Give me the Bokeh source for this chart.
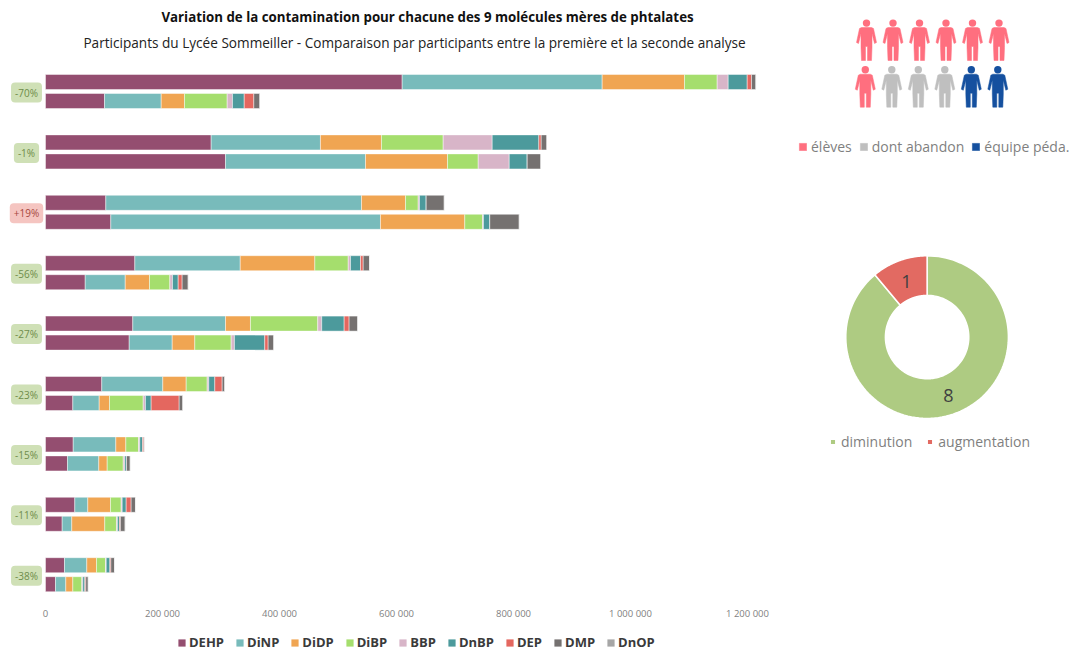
from math import pi
import numpy as np
from bokeh.embed import file_html
from bokeh.resources import INLINE
from bokeh.plotting import figure
from bokeh.layouts import row, column
from bokeh.models import Range1d, Label, Legend, LegendItem, FixedTicker, LinearAxis

FONT = "Open Sans"
series = ["DEHP", "DiNP", "DiDP", "DiBP", "BBP", "DnBP", "DEP", "DMP", "DnOP"]
colors = ["#944E70", "#78BBBB", "#F0A552", "#A5DE6D", "#D8B5C8", "#4C9A9C", "#E4675F", "#757170", "#A6A6A6"]
changes = ["-70%", "-1%", "+19%", "-56%", "-27%", "-23%", "-15%", "-11%", "-38%"]

first = {
    "DEHP": [609700, 283200, 103100, 152700, 149200, 96200, 47400, 50100, 32500],
    "DiNP": [341900, 186800, 437100, 180200, 158500, 104300, 72800, 22200, 38100],
    "DiDP": [140700, 104300, 75200, 127500, 42700, 40000, 17100, 38800, 16600],
    "DiBP": [55900, 105500, 21700, 57100, 115000, 35900, 21700, 18300, 15400],
    "BBP": [18800, 83800, 2200, 3900, 6800, 2700, 2200, 1700, 1200],
    "DnBP": [32500, 79700, 11500, 17100, 38300, 10300, 4600, 6800, 6200],
    "DEP": [7400, 4100, 0, 4600, 8500, 12600, 2200, 8500, 1700],
    "DMP": [7400, 9600, 30800, 10800, 14700, 4400, 1200, 7400, 6300],
    "DnOP": [300, 200, 200, 200, 200, 200, 300, 200, 200],
}
second = {
    "DEHP": [100900, 307700, 111600, 67900, 143100, 46700, 37600, 28500, 17100],
    "DiNP": [96900, 239300, 461000, 68400, 73500, 45100, 53500, 16400, 17600],
    "DiDP": [39800, 140200, 144100, 41500, 38600, 17600, 14400, 56400, 12000],
    "DiBP": [73000, 52500, 30300, 34700, 62200, 57600, 27400, 20000, 15400],
    "BBP": [9100, 53000, 1700, 4600, 5600, 3900, 2700, 1700, 1700],
    "DnBP": [20000, 30800, 10800, 9700, 51800, 9700, 2900, 3400, 3400],
    "DEP": [16400, 0, 0, 6800, 5800, 47900, 0, 1700, 1700],
    "DMP": [10300, 23200, 50300, 10300, 9600, 6200, 6300, 8000, 4100],
    "DnOP": [200, 200, 200, 200, 200, 200, 200, 200, 200],
}
people_groups = ["élèves", "dont abandon", "équipe péda."]
people_counts = [7, 3, 2]
people_colors = ["#FF6F7F", "#BFBFBF", "#15509F"]
trend_labels = ["diminution", "augmentation"]
trend_counts = [8, 1]
trend_colors = ["#AECB82", "#E26A62"]

# ---------- main stacked bars ----------
PX_PER_UNIT = 0.000585
X0_PAGE, LEFT_PAGE = 45, 0
FRAME_W, FRAME_H = 778, 597
GROUP_PX = 60.4
Y0_PAGE = 91
AXIS_H = 25
LEG_H = 33

def xv(page_x):
    return (page_x - X0_PAGE) / PX_PER_UNIT

def yv(page_y):
    return (page_y - Y0_PAGE) / GROUP_PX

p = figure(frame_width=FRAME_W, frame_height=FRAME_H, output_backend="svg", toolbar_location=None,
           x_range=Range1d(xv(LEFT_PAGE), xv(LEFT_PAGE + FRAME_W)),
           y_range=Range1d(yv(FRAME_H), yv(0)),
           x_axis_type=None, y_axis_type=None, min_border=0, min_border_bottom=AXIS_H, outline_line_color=None)
p.grid.visible = False

for data, off in ((first, -9.5), (second, 9.5)):
    left = np.zeros(len(changes))
    y = np.arange(len(changes)) + off / GROUP_PX
    for s, c in zip(series, colors):
        vals = np.array(data[s], dtype=float)
        p.hbar(y=y, left=left, right=left + vals, height=15 / GROUP_PX, fill_color=c,
               line_color="#FFFFFF", line_alpha=0.55, line_width=0.8)
        left = left + vals

ax = LinearAxis(ticker=FixedTicker(ticks=[0, 200000, 400000, 600000, 800000, 1000000, 1200000]))
ax.major_label_overrides = {v: f"{v:,}".replace(",", " ") for v in ax.ticker.ticks}
ax.axis_line_color = None
ax.major_tick_line_color = None
ax.minor_tick_line_color = None
ax.major_label_text_font = FONT
ax.major_label_text_font_size = "9.5px"
ax.major_label_text_color = "#7F7F7F"
ax.major_label_standoff = 3
p.add_layout(ax, "below")

for i, ch in enumerate(changes):
    up = ch.startswith("+")
    p.add_layout(Label(x=xv(26), y=i + yv(92) - yv(91), text=ch, text_align="center", text_baseline="middle",
                       text_font=FONT, text_font_size="10px",
                       text_color="#A5483F" if up else "#6E8C4A",
                       background_fill_color="#F5C5C1" if up else "#CFE0B6",
                       border_radius=4, padding=(4, 3)))

p.add_layout(Label(x=xv(427), y=yv(16), text="Variation de la contamination pour chacune des 9 molécules mères de phtalates",
                   text_align="center", text_baseline="middle", text_font=FONT, text_font_size="13.3px",
                   text_font_style="bold", text_color="#111111"))
p.add_layout(Label(x=xv(414), y=yv(42), text="Participants du Lycée Sommeiller - Comparaison par participants entre la première et la seconde analyse",
                   text_align="center", text_baseline="middle", text_font=FONT, text_font_size="13.6px",
                   text_color="#222222"))

# ---------- shared legend of the bars, on its own strip under the axis ----------
k = figure(width=FRAME_W, height=LEG_H, output_backend="svg", toolbar_location=None,
           x_range=Range1d(0, 1), y_range=Range1d(0, 1),
           x_axis_type=None, y_axis_type=None, min_border=0, outline_line_color=None)
k.grid.visible = False
legend_items = []
for s, c in zip(series, colors):
    # the bar lies outside this strip's range: only its legend swatch shows
    r = k.hbar(y=[-5], left=[0], right=first[s][:1], height=1, fill_color=c, line_color=None)
    legend_items.append(LegendItem(label=s, renderers=[r]))
k.add_layout(Legend(items=legend_items, orientation="horizontal", location=(177, 4), border_line_color=None,
                    background_fill_alpha=0, padding=0, margin=0, spacing=11, label_standoff=3,
                    glyph_width=9, glyph_height=9, label_text_font=FONT, label_text_font_size="13px",
                    label_text_font_style="bold", label_text_color="#3A3A3A", label_height=14))

# ---------- people pictogram ----------
RIGHT_W = 294
TOP_H = 170
q = figure(width=RIGHT_W, height=TOP_H, output_backend="svg", toolbar_location=None,
           x_range=Range1d(778, 778 + RIGHT_W), y_range=Range1d(TOP_H, 0),
           x_axis_type=None, y_axis_type=None, min_border=0, outline_line_color=None)
q.grid.visible = False
body_dx = [-5, -7, -10, -8, -5.5, -5.5, -5, -1, -1, 1, 1, 5, 5.5, 5.5, 8, 10, 7, 5]
body_dy = [8, 9, 23, 24, 14, 28, 41, 41, 27, 27, 41, 41, 28, 14, 24, 23, 9, 8]
expanded = [k_ for k_, n in enumerate(people_counts) for _ in range(n)]
per_row = sum(people_counts) // 2
items = []
for j, (g, c) in enumerate(zip(people_groups, people_colors)):
    xs, ys, hx, hy = [], [], [], []
    for idx, kind in enumerate(expanded):
        if kind != j:
            continue
        r_i, c_i = divmod(idx, per_row)
        cx = 866 - 1.2 * r_i + 26.5 * c_i
        top = 19 + 46.7 * r_i
        xs.append([cx + dd for dd in body_dx])
        ys.append([top + dd for dd in body_dy])
        hx.append(cx)
        hy.append(top + 3.6)
    r = q.patches(xs, ys, fill_color=c, line_color=c, line_width=0.5)
    q.circle(hx, hy, radius=3.7, fill_color=c, line_color=None)
    items.append(LegendItem(label=g, renderers=[r]))
q.add_layout(Legend(items=items, orientation="horizontal", location=(20, 14), border_line_color=None,
                    background_fill_alpha=0, padding=0, margin=0, spacing=7, label_standoff=4,
                    glyph_width=9, glyph_height=9, label_text_font=FONT, label_text_font_size="14px",
                    label_text_color="#7F7F7F", label_height=14))

# ---------- donut ----------
DONUT_H = 485
d = figure(width=RIGHT_W, height=DONUT_H, output_backend="svg", toolbar_location=None,
           x_range=Range1d(778, 778 + RIGHT_W), y_range=Range1d(170 + DONUT_H, 170),
           x_axis_type=None, y_axis_type=None, min_border=0, outline_line_color=None)
d.grid.visible = False
fracs = np.cumsum([0] + trend_counts) / sum(trend_counts)
items = []
CX, CY = 926.6, 336.6
for j, (lab, cnt, col) in enumerate(zip(trend_labels, trend_counts, trend_colors)):
    a = 2 * pi * np.linspace(fracs[j], fracs[j + 1], 120)
    xo = CX + 81.3 * np.sin(a)
    yo = CY - 81.3 * np.cos(a)
    xi = CX + 41.7 * np.sin(a[::-1])
    yi = CY - 41.7 * np.cos(a[::-1])
    r = d.patch(np.r_[xo, xi], np.r_[yo, yi], fill_color=col, line_color="#FFFFFF", line_width=1.5)
    items.append(LegendItem(label=lab, renderers=[r]))
d.add_layout(Label(x=948, y=395, text=str(trend_counts[0]), text_align="center", text_baseline="middle",
                   text_font=FONT, text_font_size="18px", text_color="#404040"))
d.add_layout(Label(x=906, y=281, text=str(trend_counts[1]), text_align="center", text_baseline="middle",
                   text_font=FONT, text_font_size="18px", text_color="#404040"))
d.add_layout(Legend(items=items, orientation="horizontal", location=(51, 204), border_line_color=None,
                    background_fill_alpha=0, padding=0, margin=0, spacing=14, label_standoff=5,
                    glyph_width=7, glyph_height=7, label_text_font=FONT, label_text_font_size="14px",
                    label_text_color="#7F7F7F", label_height=14))

page = row(column(p, k), column(q, d))
open("out.html", "w").write(file_html(page, INLINE))
